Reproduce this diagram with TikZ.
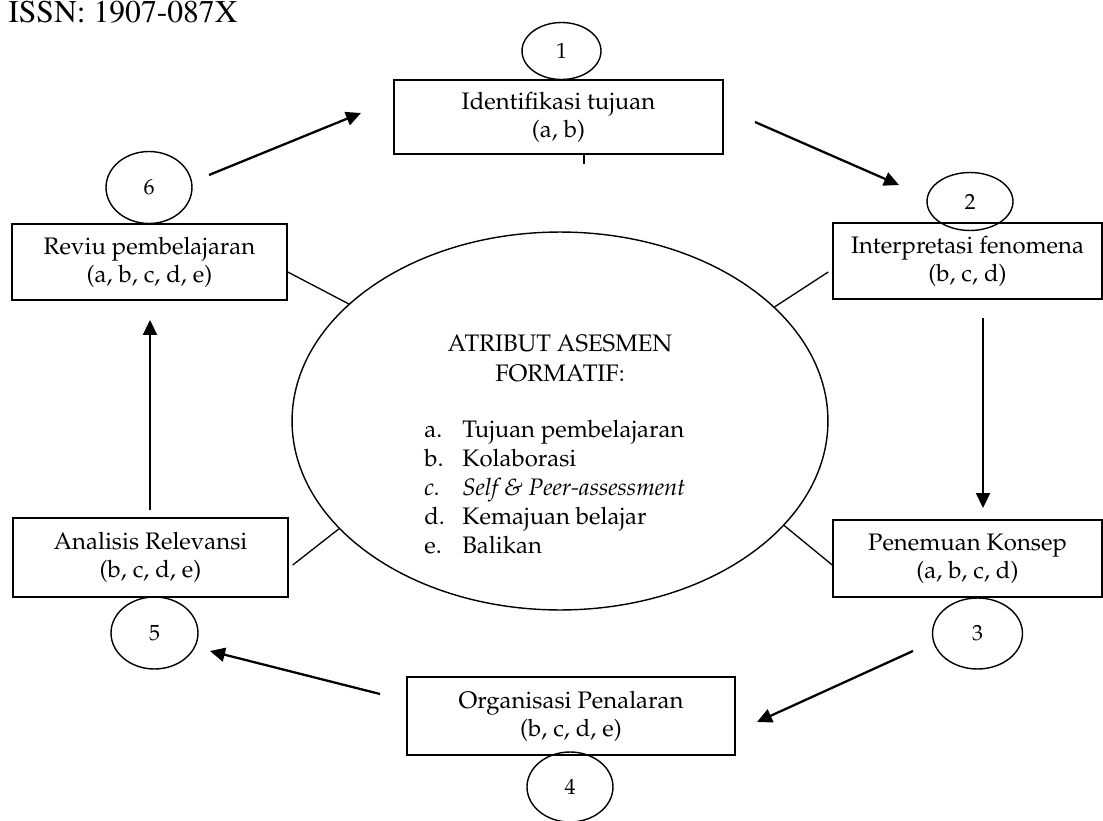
\documentclass[tikz,border=0pt]{standalone}
\usepackage[T1]{fontenc}
\usepackage{mathpazo}
\usepackage{tikz}
\usetikzlibrary{shapes,arrows.meta,positioning}

\begin{document}
\begin{tikzpicture}[x=0.02cm, y=-0.02cm, font=\fontsize{13.6}{16}\selectfont,
    kotak/.style={rectangle, draw, line width=0.9pt, align=center, inner sep=0pt},
    bulat/.style={ellipse, draw, line width=0.8pt, inner sep=0pt, font=\fontsize{12.5}{14}\selectfont},
    panah/.style={-{Triangle[length=0.3cm, width=0.28cm]}, line width=1.3pt},
    garis/.style={line width=0.75pt}]
                    \useasboundingbox (0,0) rectangle (1103,821);
                    \node[anchor=base west, inner sep=0pt, font=\fontsize{18}{20}\fontfamily{ptm}\selectfont] (issn) at (8,23) {ISSN: 1907-087X};

                    % lingkaran tengah
                    \node[ellipse, draw, line width=0.8pt, minimum width=10.72cm, minimum height=7.56cm] (atribut) at (560,421) {};
                    \node[anchor=base] (judul1) at (560,351.5) {ATRIBUT ASESMEN};
                    \node[anchor=base] (judul2) at (560,381) {FORMATIF:};
                    \foreach \h/\t [count=\i] in {a./Tujuan pembelajaran, b./Kolaborasi, \textit{c.}/\textit{Self \& Peer-assessment}, d./Kemajuan belajar, e./Balikan} {
                        \node[anchor=base west, inner sep=0pt] (huruf\i) at (424,{437.6+(\i-1)*28.9}) {\h};
                        \node[anchor=base west, inner sep=0pt] (isi\i) at (462,{437.6+(\i-1)*28.9}) {\t};
                    }

                    % tahapan
                    \node[kotak, minimum width=6.58cm, minimum height=1.48cm] (tujuan) at (558.5,117) {Identifikasi tujuan\\(a, b)};
                    \node[kotak, minimum width=5.38cm, minimum height=1.52cm] (interpretasi) at (967.5,261) {Interpretasi fenomena\\(b, c, d)};
                    \node[kotak, minimum width=5.38cm, minimum height=1.54cm] (penemuan) at (967.5,558.5) {Penemuan Konsep\\(a, b, c, d)};
                    \node[kotak, minimum width=6.56cm, minimum height=1.56cm] (organisasi) at (571,716) {Organisasi Penalaran\\(b, c, d, e)};
                    \node[kotak, minimum width=5.5cm, minimum height=1.58cm] (analisis) at (150.5,557.5) {Analisis Relevansi\\(b, c, d, e)};
                    \node[kotak, minimum width=5.5cm, minimum height=1.52cm] (reviu) at (149.5,262) {Reviu pembelajaran\\(a, b, c, d, e)};

                    % nomor
                    \node[bulat, minimum width=1.58cm, minimum height=1.14cm] (n1) at (561.5,51) {1};
                    \node[bulat, minimum width=1.72cm, minimum height=1.16cm] (n2) at (970,201.5) {2};
                    \node[bulat, minimum width=1.8cm, minimum height=1.42cm] (n3) at (977.5,633.5) {3};
                    \node[bulat, minimum width=1.72cm, minimum height=1.4cm] (n4) at (570,787) {4};
                    \node[bulat, minimum width=1.74cm, minimum height=1.44cm] (n5) at (154.5,633) {5};
                    \node[bulat, minimum width=1.72cm, minimum height=1.44cm] (n6) at (149,187.5) {6};

                    % ujung panah
                    \coordinate (a6) at (209,175);
                    \coordinate (b1) at (361,113);
                    \coordinate (a1) at (755,122);
                    \coordinate (b2) at (899,185);
                    \coordinate (a2) at (983,318);
                    \coordinate (b3) at (983,508);
                    \coordinate (a3) at (913,651);
                    \coordinate (b4) at (757,722);
                    \coordinate (a4) at (380,694);
                    \coordinate (b5) at (210,651);
                    \coordinate (a5) at (150,510);
                    \coordinate (b6) at (150,320);

                    \draw[panah] (a6) -- (b1);
                    \draw[panah] (a1) -- (b2);
                    \draw[panah] (a2) -- (b3);
                    \draw[panah] (a3) -- (b4);
                    \draw[panah] (a4) -- (b5);
                    \draw[panah] (a5) -- (b6);

                    \draw[garis] ([yshift=-0.2cm]reviu.east) -- (atribut.151);
                    \draw[garis] ([xshift=-0.08cm, yshift=-0.22cm]interpretasi.west) -- (atribut.28);
                    \draw[garis] ([xshift=0.08cm, yshift=-0.15cm]analisis.east) -- (atribut.206);
                    \draw[garis] ([yshift=-0.13cm]penemuan.west) -- (atribut.335);
                    \draw[garis] ([xshift=0.51cm]tujuan.south) -- ++(0,9);
                \end{tikzpicture}
\end{document}
